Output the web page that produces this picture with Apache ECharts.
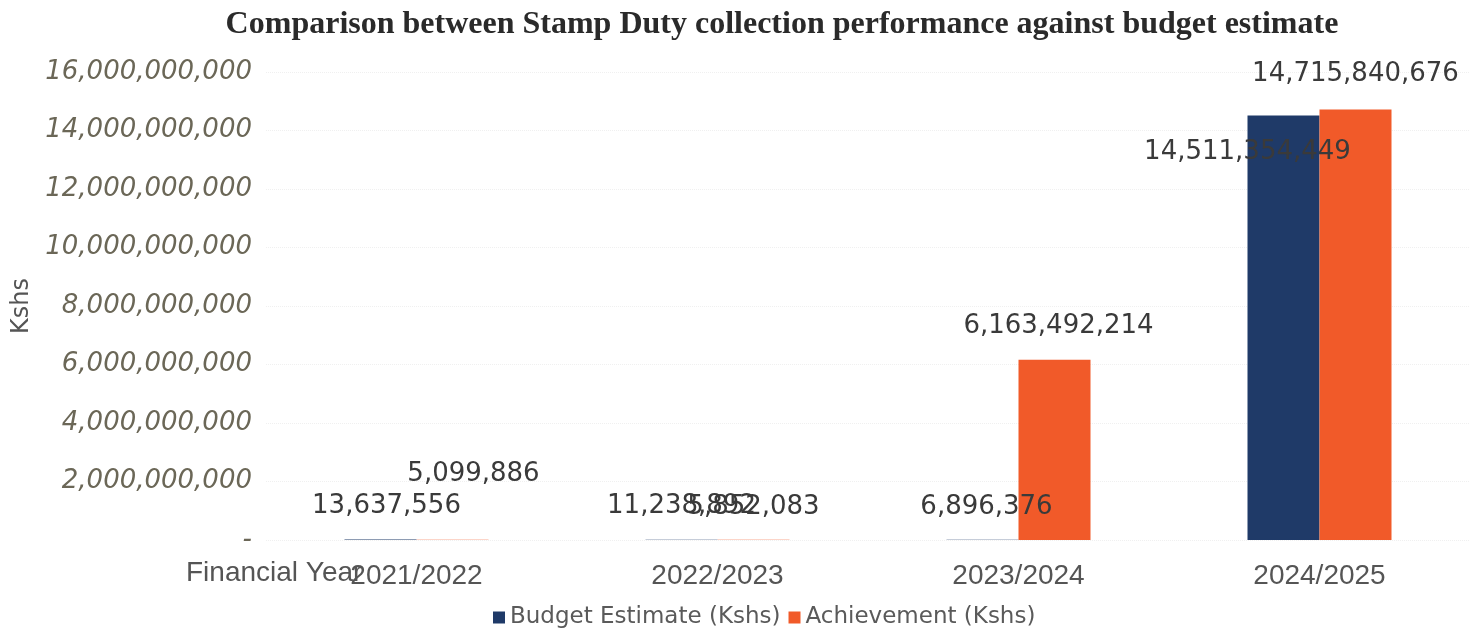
<!DOCTYPE html>
<html>
<head>
<meta charset="UTF-8">
<title>Stamp Duty collection vs budget estimate</title>
<script src="https://cdn.jsdelivr.net/npm/echarts@6/dist/echarts.min.js"></script>
<style>
  html, body { margin: 0; padding: 0; background: #ffffff; }
  #chart1 { width: 1470px; height: 637px; }
</style>
</head>
<body>
<div id="chart1"></div>
<script type="text/javascript">
// data
var years = ['2021/2022', '2022/2023', '2023/2024', '2024/2025'];
var budgetEstimate = [13637556, 11238892, 6896376, 14511354449];
var achievement = [5099886, 5852083, 6163492214, 14715840676];
var yTicks = [0, 2e9, 4e9, 6e9, 8e9, 10e9, 12e9, 14e9, 16e9];

// labels that were dragged by hand in the original
var budgetShift = [[6, 0], [0, 0], [4, 0], [-36, 70]];
var achieveShift = [[21, -33], [0, 0], [4, 0], [0, -2]];

var colors = ['#1f3a68', '#f15a29'];
var hand = 'DejaVu Sans';

function commas(v) {
    if (v === 0) return '-';
    return String(Math.round(v)).replace(/\B(?=(\d{3})+(?!\d))/g, ',');
}

function buildData(values, shifts) {
    return values.map(function (v, i) {
        return { value: v, label: { offset: shifts[i] } };
    });
}

var chart1 = echarts.init(document.getElementById('chart1'));

var barLabel = {
    show: true,
    position: 'top',
    distance: 20,
    fontFamily: hand,
    fontSize: 26,
    color: '#3a3a3a',
    formatter: function (p) { return commas(p.value); }
};

var option = {
    backgroundColor: '#ffffff',
    animation: false,
    title: {
        text: 'Comparison between Stamp Duty collection performance against budget estimate',
        left: 777,
        textAlign: 'center',
        top: 4,
        textStyle: {
            fontFamily: 'Liberation Serif',
            fontWeight: 'bold',
            fontSize: 32,
            color: '#2a2a2a'
        }
    },
    legend: {
        bottom: 3,
        left: 488,
        icon: 'rect',
        itemWidth: 12,
        itemHeight: 12,
        itemGap: 8,
        textStyle: {
            fontFamily: hand,
            fontSize: 23,
            color: '#5a5a5a'
        }
    },
    grid: {
        left: 266,
        right: 0,
        top: 72,
        bottom: 97
    },
    xAxis: {
        type: 'category',
        data: years,
        axisLine: { show: false },
        axisTick: { show: false },
        axisLabel: {
            margin: 22,
            fontFamily: 'Liberation Sans',
            fontSize: 28,
            color: '#555555'
        }
    },
    yAxis: {
        type: 'value',
        min: yTicks[0],
        max: yTicks[yTicks.length - 1],
        interval: yTicks[1] - yTicks[0],
        name: 'Kshs',
        nameLocation: 'middle',
        nameRotate: 90,
        nameGap: 232,
        nameTextStyle: {
            fontFamily: hand,
            fontSize: 24,
            color: '#555555'
        },
        axisLine: { show: false },
        axisTick: { show: false },
        axisLabel: {
            margin: 14,
            fontFamily: hand,
            fontStyle: 'italic',
            fontSize: 26,
            color: '#6b6757',
            formatter: commas
        },
        splitLine: {
            lineStyle: { color: '#f0f0f0', type: 'dotted' }
        }
    },
    graphic: [{
        type: 'text',
        left: 186,
        top: 559,
        style: {
            text: 'Financial Year',
            font: '28px "Liberation Sans"',
            fill: '#555555'
        }
    }],
    series: [
        {
            name: 'Budget Estimate (Kshs)',
            type: 'bar',
            barWidth: 72,
            barGap: '0%',
            itemStyle: { color: colors[0] },
            label: barLabel,
            data: buildData(budgetEstimate, budgetShift)
        },
        {
            name: 'Achievement (Kshs)',
            type: 'bar',
            barWidth: 72,
            barGap: '0%',
            itemStyle: { color: colors[1] },
            label: barLabel,
            data: buildData(achievement, achieveShift)
        }
    ]
};

chart1.setOption(option);
</script>
</body>
</html>
